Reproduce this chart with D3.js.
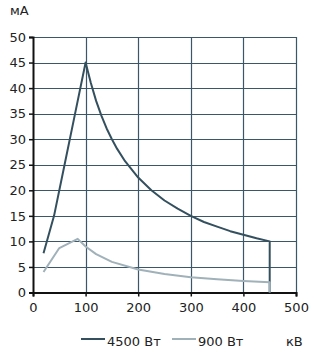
<!DOCTYPE html>
<html>
<head>
<meta charset="utf-8">
<script src="https://cdn.jsdelivr.net/npm/d3@7"></script>
<style>
  body { margin: 0; background: #fff; }
  text { font-family: "DejaVu Sans", Verdana, sans-serif; font-size: 13px; fill: #222; }
</style>
</head>
<body>
<svg id="chart"></svg>
<script>
// kV values and mA readings, two power levels
var kv4500 = [20, 40, 60, 80, 100, 110, 120, 130, 140, 150, 160, 175, 200, 225, 250, 275, 300, 325, 350, 375, 400, 425, 450, 450];
var ma4500 = [7.7, 15, 25, 35, 45, 41, 37.5, 34.6, 32.1, 30, 28.1, 25.7, 22.5, 20, 18, 16.4, 15, 13.8, 12.9, 12, 11.3, 10.6, 10, 0];
var kv900 = [20, 50, 85, 100, 120, 150, 200, 250, 300, 350, 400, 450, 450];
var ma900 = [4, 8.7, 10.5, 9, 7.5, 6, 4.5, 3.6, 3, 2.6, 2.25, 2, 0];
var xTicks = [0, 100, 200, 300, 400, 500];
var yTicks = [0, 5, 10, 15, 20, 25, 30, 35, 40, 45, 50];
var seriesNames = ["4500 Вт", "900 Вт"];
var seriesColors = ["#34505f", "#a0b1b9"];

var width = 315, height = 357;
var plotL = 33, plotR = 296, plotT = 37, plotB = 292.5;

var svg = d3.select("#chart").attr("width", width).attr("height", height);

var x = d3.scaleLinear().domain([0, 500]).range([plotL, plotR]);
var y = d3.scaleLinear().domain([0, 50]).range([plotB, plotT]);

// grid
svg.append("g").selectAll("line").data(yTicks.slice(1)).enter().append("line")
  .attr("x1", plotL).attr("x2", plotR)
  .attr("y1", d => Math.round(y(d)) + 0.5).attr("y2", d => Math.round(y(d)) + 0.5)
  .attr("stroke", "#3b5767").attr("stroke-width", 1.2);
svg.append("g").selectAll("line").data(xTicks.slice(1)).enter().append("line")
  .attr("y1", plotT).attr("y2", plotB)
  .attr("x1", d => Math.round(x(d)) + 0.5).attr("x2", d => Math.round(x(d)) + 0.5)
  .attr("stroke", "#3b5767").attr("stroke-width", 1.2);

// axes
var yAxis = d3.axisLeft(y).tickValues(yTicks).tickSize(4).tickPadding(3);
var xAxis = d3.axisBottom(x).tickValues(xTicks).tickSize(4).tickPadding(6);

var gy = svg.append("g").attr("transform", "translate(" + plotL + ",0)").call(yAxis);
var gx = svg.append("g").attr("transform", "translate(0," + plotB + ")").call(xAxis);
[gy, gx].forEach(function(g) {
  g.select(".domain").attr("stroke", "#111").attr("stroke-width", 2);
  g.selectAll(".tick line").attr("stroke", "#111").attr("stroke-width", 1.5);
  g.selectAll(".tick text").attr("fill", "#222")
    .style("font-family", "'DejaVu Sans', Verdana, sans-serif").style("font-size", "13px");
});

// lines
var line = d3.line().x(d => x(d[0])).y(d => y(d[1]));
var series = [d3.zip(kv4500, ma4500), d3.zip(kv900, ma900)];
svg.append("g").selectAll("path").data(series).enter().append("path")
  .attr("d", line)
  .attr("fill", "none")
  .attr("stroke", (d, i) => seriesColors[i])
  .attr("stroke-width", 2)
  .attr("stroke-linejoin", "round");

// unit labels
svg.append("text").attr("x", 10).attr("y", 15).text("мА");
svg.append("text").attr("x", 286).attr("y", 346).text("кВ");

// legend
var legendX = [81, 172];
var leg = svg.append("g").selectAll("g").data(seriesNames).enter().append("g")
  .attr("transform", (d, i) => "translate(" + legendX[i] + ",339)");
leg.append("line").attr("x1", 0).attr("x2", 24)
  .attr("stroke", (d, i) => seriesColors[i]).attr("stroke-width", 2);
leg.append("text").attr("x", 26).attr("y", 7).text(d => d);
</script>
</body>
</html>
